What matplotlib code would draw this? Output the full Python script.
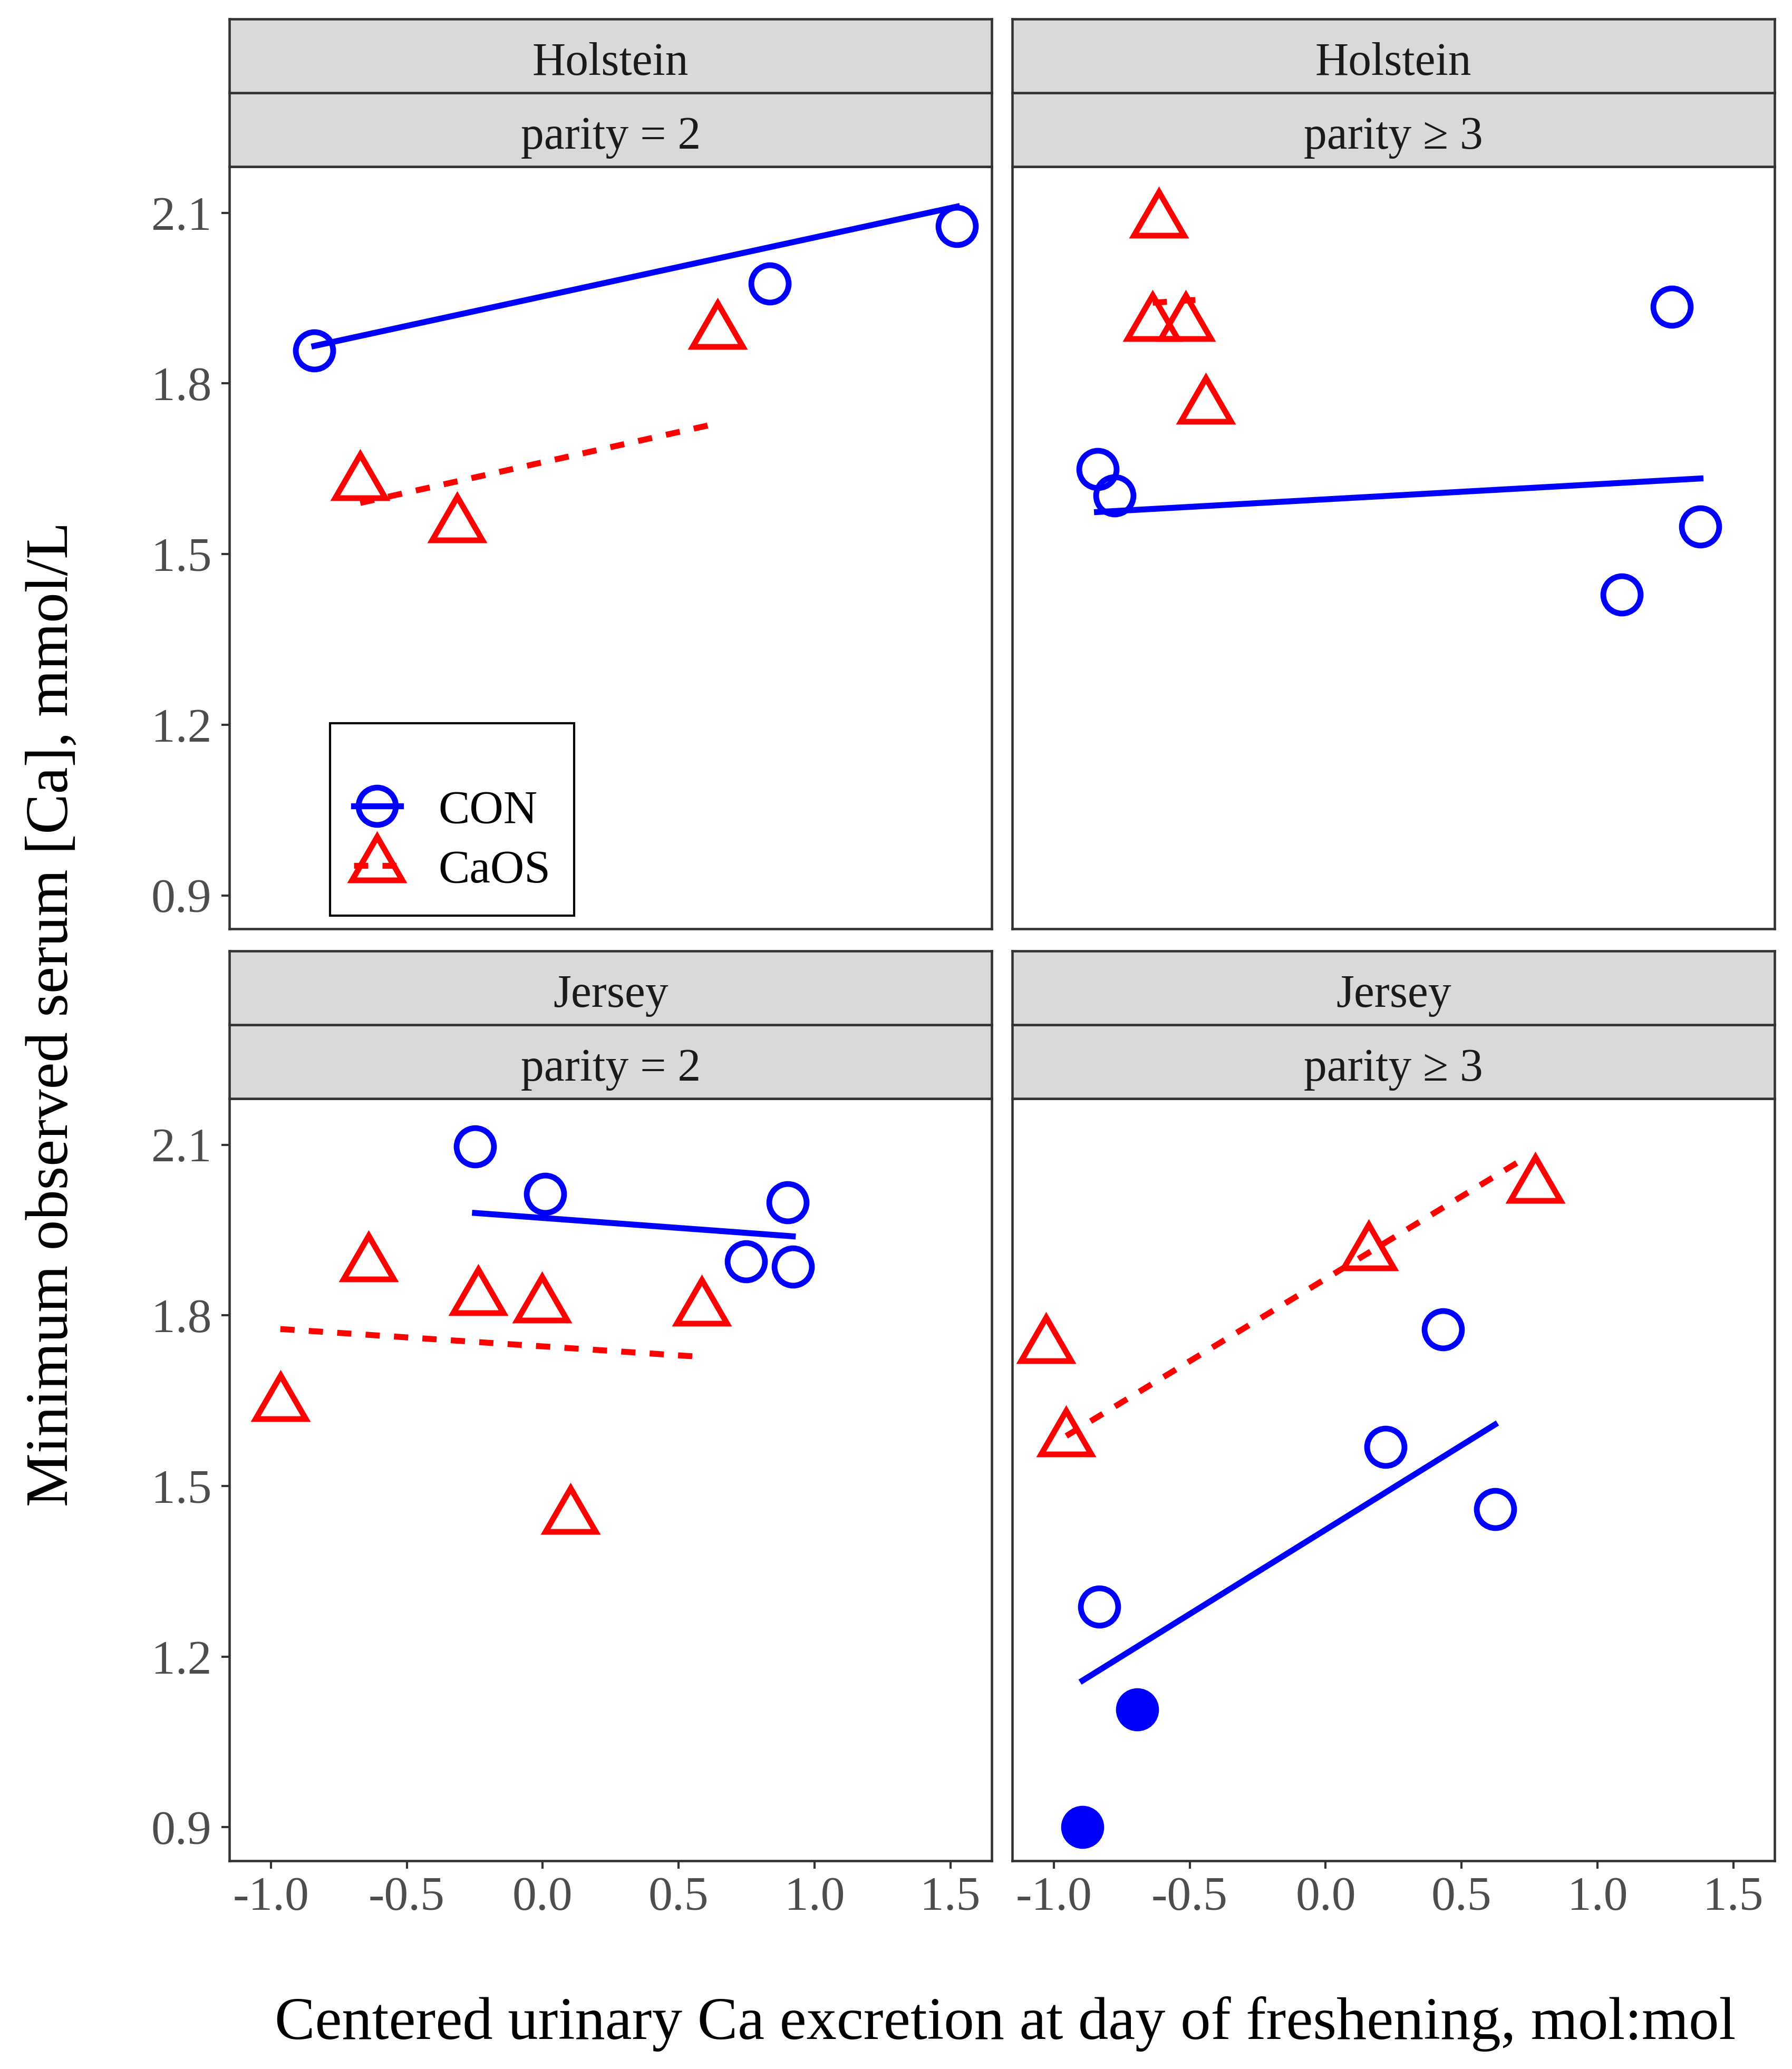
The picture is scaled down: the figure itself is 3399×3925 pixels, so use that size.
import matplotlib
matplotlib.use("Agg")
import matplotlib.pyplot as plt
from matplotlib.lines import Line2D

plt.rcParams['font.family'] = ['Liberation Serif', 'DejaVu Serif']

# facet labels
breeds = ["Holstein", "Holstein", "Jersey", "Jersey"]
parities = ["parity = 2", "parity \u2265 3", "parity = 2", "parity \u2265 3"]

x_ticks = [-1.0, -0.5, 0.0, 0.5, 1.0, 1.5]
x_tick_labels = ["-1.0", "-0.5", "0.0", "0.5", "1.0", "1.5"]
y_ticks = [0.9, 1.2, 1.5, 1.8, 2.1]
y_tick_labels = ["0.9", "1.2", "1.5", "1.8", "2.1"]

# Holstein, parity = 2
hol2_con_x = [-0.840, 0.836, 1.524]
hol2_con_y = [1.858, 1.976, 2.077]
hol2_caos_x = [-0.671, -0.314, 0.644]
hol2_caos_y = [1.624, 1.550, 1.890]
hol2_con_fit_x = [-0.840, 1.524]
hol2_con_fit_y = [1.866, 2.111]
hol2_caos_fit_x = [-0.671, 0.644]
hol2_caos_fit_y = [1.590, 1.730]

# Holstein, parity >= 3
hol3_con_x = [-0.838, -0.776, 1.273, 1.379, 1.090]
hol3_con_y = [1.649, 1.603, 1.935, 1.548, 1.429]
hol3_caos_x = [-0.614, -0.636, -0.515, -0.441]
hol3_caos_y = [2.086, 1.904, 1.904, 1.759]
hol3_con_fit_x = [-0.841, 1.379]
hol3_con_fit_y = [1.574, 1.633]
hol3_caos_fit_x = [-0.636, -0.441]
hol3_caos_fit_y = [1.942, 1.948]

# Jersey, parity = 2
jer2_con_x = [-0.249, 0.009, 0.901, 0.749, 0.920]
jer2_con_y = [2.097, 2.013, 1.999, 1.895, 1.886]
jer2_caos_x = [-0.965, -0.641, -0.237, -0.002, 0.585, 0.103]
jer2_caos_y = [1.644, 1.889, 1.830, 1.817, 1.811, 1.445]
jer2_con_fit_x = [-0.249, 0.920]
jer2_con_fit_y = [1.980, 1.939]
jer2_caos_fit_x = [-0.965, 0.585]
jer2_caos_fit_y = [1.776, 1.727]

# Jersey, parity >= 3
jer3_con_x = [-0.833, 0.221, 0.431, 0.623]
jer3_con_y = [1.288, 1.569, 1.775, 1.459]
jer3_con_low_x = [-0.693, -0.894]   # filled points
jer3_con_low_y = [1.107, 0.900]
jer3_caos_x = [-1.028, -0.954, 0.158, 0.771]
jer3_caos_y = [1.746, 1.582, 1.909, 2.027]
jer3_con_fit_x = [-0.894, 0.623]
jer3_con_fit_y = [1.158, 1.608]
jer3_caos_fit_x = [-0.954, 0.745]
jer3_caos_fit_y = [1.588, 2.080]

con_x = [hol2_con_x, hol3_con_x, jer2_con_x, jer3_con_x]
con_y = [hol2_con_y, hol3_con_y, jer2_con_y, jer3_con_y]
caos_x = [hol2_caos_x, hol3_caos_x, jer2_caos_x, jer3_caos_x]
caos_y = [hol2_caos_y, hol3_caos_y, jer2_caos_y, jer3_caos_y]
con_fit_x = [hol2_con_fit_x, hol3_con_fit_x, jer2_con_fit_x, jer3_con_fit_x]
con_fit_y = [hol2_con_fit_y, hol3_con_fit_y, jer2_con_fit_y, jer3_con_fit_y]
caos_fit_x = [hol2_caos_fit_x, hol3_caos_fit_x, jer2_caos_fit_x, jer3_caos_fit_x]
caos_fit_y = [hol2_caos_fit_y, hol3_caos_fit_y, jer2_caos_fit_y, jer3_caos_fit_y]

BLUE = '#0000FF'
RED = '#FF0000'
dash = (0, (2.4, 2.4))
circ_kw = dict(marker='o', ms=17, mew=2.6, mfc='none', ls='none')
tri_kw = dict(marker=(3, 0, 0), ms=26.4, mew=2.6, mfc='none', ls='none')

fig = plt.figure(figsize=(3399 / 300, 3925 / 300), dpi=300)

col_left = [0.1280, 0.5649]
col_w = 0.4255
row_bottom = [0.5510, 0.1006]
row_h = 0.3684
strip_h = 0.0357

axes = []
for i in range(4):
    r, c = divmod(i, 2)
    l, b = col_left[c], row_bottom[r]
    ax = fig.add_axes([l, b, col_w, row_h])
    axes.append(ax)

    ax.plot(con_x[i], con_y[i], color=BLUE, zorder=2, **circ_kw)
    ax.plot(caos_x[i], caos_y[i], color=RED, zorder=2, **tri_kw)
    if i == 3:
        ax.plot(jer3_con_low_x, jer3_con_low_y, marker='o', ms=17, mew=2.6,
                color=BLUE, mfc=BLUE, ls='none', zorder=2)
    ax.plot(con_fit_x[i], con_fit_y[i], color=BLUE, lw=2.7, zorder=3)
    ax.plot(caos_fit_x[i], caos_fit_y[i], color=RED, lw=2.7, ls=dash, zorder=3)

    ax.set_xlim(-1.1525, 1.6525)
    ax.set_ylim(0.841, 2.181)
    ax.set_xticks(x_ticks)
    ax.set_xticklabels(x_tick_labels)
    ax.set_yticks(y_ticks)
    ax.set_yticklabels(y_tick_labels)
    ax.tick_params(direction='out', length=3.6, width=1.0, color='#333333',
                   labelsize=22, labelcolor='#4D4D4D')
    ax.tick_params(axis='x', pad=3.4)
    ax.tick_params(axis='y', pad=4.5)
    if r == 0:
        ax.tick_params(axis='x', bottom=False, labelbottom=False)
    if c == 1:
        ax.tick_params(axis='y', left=False, labelleft=False)
    for sp in ax.spines.values():
        sp.set_color('#333333')
        sp.set_linewidth(1.1)

    # two strips on top of each panel
    for k, label in enumerate([parities[i], breeds[i]]):
        s = fig.add_axes([l, b + row_h + k * strip_h, col_w, strip_h])
        s.set_facecolor('#D9D9D9')
        s.set_xticks([])
        s.set_yticks([])
        for sp in s.spines.values():
            sp.set_color('#333333')
            sp.set_linewidth(1.1)
        s.text(0.5, 0.4, label, ha='center', va='center', fontsize=21,
               color='#1A1A1A', transform=s.transAxes)

con_handle = Line2D([], [], color=BLUE, lw=2.7, marker='o', ms=17, mew=2.6, mfc='none')
caos_handle = Line2D([], [], color=RED, lw=2.7, ls=dash, marker=(3, 0, 0),
                     ms=26.4, mew=2.6, mfc='none')
leg = axes[0].legend([con_handle, caos_handle], ['CON', 'CaOS'],
                     loc='lower left', bbox_to_anchor=(0.132, 0.0176),
                     borderaxespad=0, fancybox=False, edgecolor='black',
                     framealpha=1, fontsize=21.4, handlelength=1.0,
                     handletextpad=0.8, borderpad=0.5, labelspacing=0.35,
                     title=' ', title_fontsize=13)
leg.get_frame().set_linewidth(1.0)

fig.text(0.0294, 0.5099, 'Minimum observed serum [Ca], mmol/L', rotation=90,
         ha='center', va='center', fontsize=27.5, color='black')
fig.text(0.561, 0.0146, 'Centered urinary Ca excretion at day of freshening, mol:mol',
         ha='center', va='baseline', fontsize=27.5, color='black')

fig.savefig('out.png', dpi=300, facecolor='white')
